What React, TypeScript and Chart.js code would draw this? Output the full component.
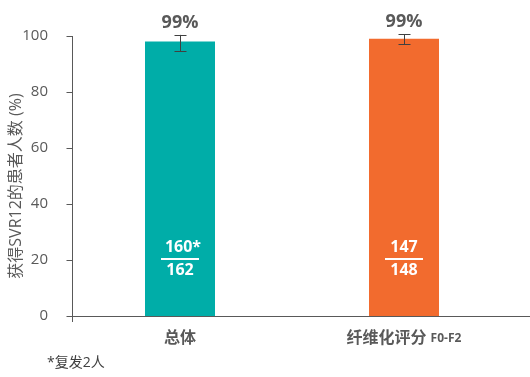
import React, { useEffect, useRef } from "react";
import { Chart, registerables } from "chart.js";

Chart.register(...registerables);

const categories = ["总体", "纤维化评分"];
const categorySuffix = ["", "F0-F2"];
const values = [98, 99];
const errLow = [94.5, 97.1];
const errHigh = [100.4, 100.6];
const valueLabels = ["99%", "99%"];
const numerators = ["160*", "147"];
const denominators = ["162", "148"];
const barColors = ["#00ADA8", "#F26B2E"];
const yTicks = [0, 20, 40, 60, 80, 100];
const yTitle = "获得SVR12的患者人数 (%)";
const footnote = "*复发2人";

const FONT = '"Open Sans", "Noto Sans CJK SC", sans-serif';
const GREY = "#595959";
const AXIS_X = 72.5;

const overlay = {
  id: "overlay",
  afterDraw(chart: any) {
    const ctx = chart.ctx;
    const meta = chart.getDatasetMeta(0);
    const y = chart.scales.y;
    const area = chart.chartArea;
    ctx.save();
    const by = Math.round(area.bottom) + 0.5;
    // axes
    ctx.strokeStyle = GREY;
    ctx.lineWidth = 1;
    ctx.beginPath();
    ctx.moveTo(AXIS_X, by);
    ctx.lineTo(chart.width, by);
    ctx.moveTo(AXIS_X, y.getPixelForValue(100));
    ctx.lineTo(AXIS_X, area.bottom + 6);
    yTicks.forEach((v) => {
      const ty = Math.round(y.getPixelForValue(v)) + 0.5;
      ctx.moveTo(AXIS_X - 6, ty);
      ctx.lineTo(AXIS_X, ty);
    });
    ctx.stroke();

    meta.data.forEach((bar: any, i: number) => {
      const cx = bar.x;
      const hi = y.getPixelForValue(errHigh[i]);
      const lo = y.getPixelForValue(errLow[i]);
      // error bar
      ctx.strokeStyle = "#404040";
      ctx.lineWidth = 1;
      ctx.beginPath();
      const x0 = Math.round(cx) + 0.5;
      ctx.moveTo(x0, hi);
      ctx.lineTo(x0, lo);
      ctx.moveTo(x0 - 6, Math.round(hi) + 0.5);
      ctx.lineTo(x0 + 6, Math.round(hi) + 0.5);
      ctx.moveTo(x0 - 6, Math.round(lo) + 0.5);
      ctx.lineTo(x0 + 6, Math.round(lo) + 0.5);
      ctx.stroke();
      // value label
      ctx.fillStyle = GREY;
      ctx.font = `bold 18px ${FONT}`;
      ctx.textAlign = "center";
      ctx.textBaseline = "middle";
      ctx.fillText(valueLabels[i], cx, hi - 12);
      // fraction
      const mid = y.getPixelForValue(20.4);
      ctx.fillStyle = "#ffffff";
      ctx.font = `bold 16px ${FONT}`;
      ctx.fillText(numerators[i], cx + (numerators[i].endsWith("*") ? 3 : 0), mid - 11);
      ctx.fillText(denominators[i], cx, mid + 12);
      ctx.strokeStyle = "#ffffff";
      ctx.lineWidth = 2;
      ctx.beginPath();
      ctx.moveTo(cx - 19, mid);
      ctx.lineTo(cx + 19, mid);
      ctx.stroke();
      // category label
      ctx.fillStyle = GREY;
      const main = categories[i];
      const suf = categorySuffix[i];
      ctx.font = `bold 16px ${FONT}`;
      const w1 = ctx.measureText(main).width;
      let w2 = 0;
      let gap = 0;
      if (suf) {
        ctx.font = `bold 12px ${FONT}`;
        w2 = ctx.measureText(suf).width;
        gap = 4;
      }
      const total = w1 + gap + w2;
      const lx = cx - total / 2;
      const ly = area.bottom + 22;
      ctx.textAlign = "left";
      ctx.font = `bold 16px ${FONT}`;
      ctx.fillText(main, lx, ly);
      if (suf) {
        ctx.font = `bold 12px ${FONT}`;
        ctx.fillText(suf, lx + w1 + gap, ly + 1);
      }
    });

    // y title
    ctx.save();
    ctx.translate(16, (area.top + area.bottom) / 2 + 10);
    ctx.rotate(-Math.PI / 2);
    ctx.fillStyle = GREY;
    ctx.font = `16px ${FONT}`;
    ctx.textAlign = "center";
    ctx.textBaseline = "middle";
    ctx.fillText(yTitle, 0, 0);
    ctx.restore();

    // footnote
    ctx.fillStyle = "#404040";
    ctx.font = `14px ${FONT}`;
    ctx.textAlign = "left";
    ctx.textBaseline = "middle";
    ctx.fillText(footnote, 47, 363);
    ctx.restore();
  },
};

export default function App() {
  const ref = useRef<HTMLCanvasElement>(null);
  useEffect(() => {
    document.body.style.margin = "0";
    const chart = new Chart(ref.current!, {
      type: "bar",
      data: {
        labels: categories,
        datasets: [
          {
            data: values,
            backgroundColor: barColors,
            barPercentage: 0.3125,
            categoryPercentage: 1,
          },
        ],
      },
      options: {
        animation: false,
        responsive: false,
        maintainAspectRatio: false,
        layout: { padding: { top: 36, right: 14, left: 0, bottom: 0 } },
        plugins: { legend: { display: false }, tooltip: { enabled: false } },
        scales: {
          x: {
            grid: { display: false },
            border: { display: false },
            ticks: { display: false },
            afterFit: (s: any) => {
              s.height = 61;
            },
          },
          y: {
            min: 0,
            max: 100,
            afterBuildTicks: (s: any) => {
              s.ticks = yTicks.map((v) => ({ value: v }));
            },
            grid: { display: false },
            border: { display: false },
            ticks: { color: GREY, font: { size: 15, family: FONT }, padding: 12 },
            afterFit: (s: any) => {
              s.width = 68;
            },
          },
        },
      },
      plugins: [overlay],
    });
    return () => chart.destroy();
  }, []);
  return <canvas ref={ref} width={530} height={377} style={{ display: "block" }} />;
}
